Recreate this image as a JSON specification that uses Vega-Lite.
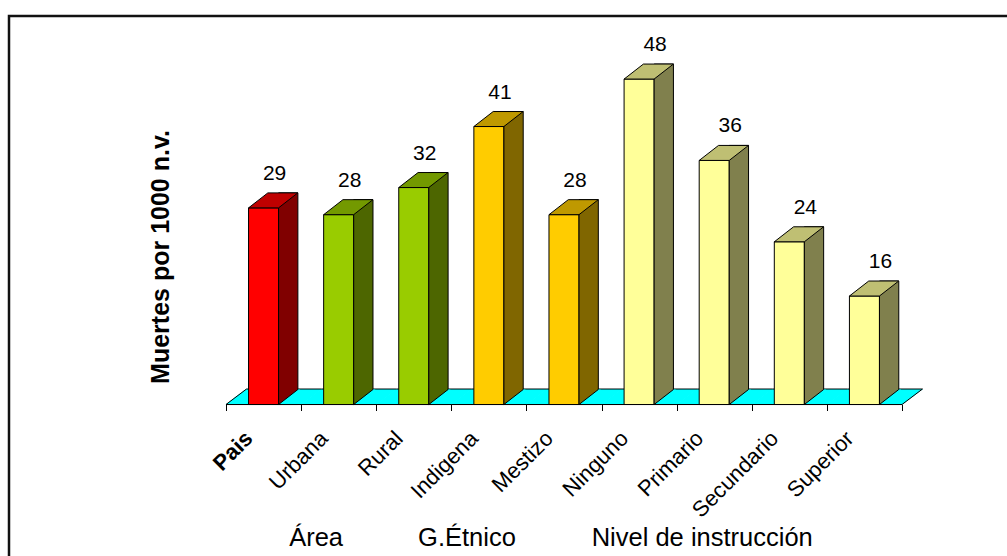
{
  "$schema": "https://vega.github.io/schema/vega-lite/v6.json",
  "width": 1010,
  "height": 570,
  "autosize": {"type": "none"},
  "padding": {"left": 9, "top": 16, "right": -12, "bottom": -30},
  "background": "white",
  "config": {
    "view": {"stroke": "#111111", "strokeWidth": 2.5},
    "font": "Liberation Sans"
  },
  "datasets": {
    "d": [
      {"cat": "Pais", "value": 29, "group": "Total"},
      {"cat": "Urbana", "value": 28, "group": "Área"},
      {"cat": "Rural", "value": 32, "group": "Área"},
      {"cat": "Indigena", "value": 41, "group": "G.Étnico"},
      {"cat": "Mestizo", "value": 28, "group": "G.Étnico"},
      {"cat": "Ninguno", "value": 48, "group": "Nivel de instrucción"},
      {"cat": "Primario", "value": 36, "group": "Nivel de instrucción"},
      {"cat": "Secundario", "value": 24, "group": "Nivel de instrucción"},
      {"cat": "Superior", "value": 16, "group": "Nivel de instrucción"}
    ]
  },
  "data": {"name": "d"},
  "encoding": {
    "x": {
      "field": "cat",
      "type": "nominal",
      "sort": null,
      "scale": {
        "type": "band",
        "domain": ["Pais", "Urbana", "Rural", "Indigena", "Mestizo", "Ninguno", "Primario", "Secundario", "Superior"],
        "range": [217, 893],
        "paddingInner": 0,
        "paddingOuter": 0
      },
      "axis": {
        "orient": "bottom",
        "offset": -181.5,
        "title": null,
        "domain": false,
        "grid": false,
        "ticks": true,
        "tickBand": "extent",
        "tickSize": 6,
        "tickColor": "black",
        "tickWidth": 1,
        "labelAngle": -45,
        "labelAlign": "right",
        "labelBaseline": "middle",
        "labelFontSize": 22,
        "labelFont": "Liberation Sans",
        "labelColor": "black",
        "labelPadding": 24,
        "labelOffset": -15,
        "labelOverlap": false,
        "labelFontWeight": {"condition": {"test": "datum.value === 'Pais'", "value": "bold"}, "value": "normal"}
      }
    }
  },
  "layer": [
    {
      "mark": {"type": "point", "shape": "M -38.05 0 L 38.05 0 L 58.55 -15.5 L -17.55 -15.5 Z", "size": 4, "filled": true, "fill": "#00FFFF", "strokeWidth": 0, "opacity": 1},
      "encoding": {"y": {"datum": 0, "type": "quantitative", "scale": {"type": "linear", "domain": [-13.64, 57.3], "range": [481, 0], "nice": false, "zero": false}, "axis": null}}
    },
    {
      "mark": {"type": "point", "shape": "M -37.55 0 L 37.55 0 M -17.05 -15.5 L 58.05 -15.5", "size": 4, "filled": false, "stroke": "black", "strokeWidth": 1, "opacity": 1},
      "encoding": {"y": {"datum": 0, "type": "quantitative", "scale": {"type": "linear", "domain": [-13.64, 57.3], "range": [481, 0], "nice": false, "zero": false}, "axis": null}}
    },
    {
      "transform": [{"filter": "datum.cat === 'Pais'"}],
      "mark": {"type": "point", "shape": "M -37.55 0 L -17.05 -15.5", "size": 4, "filled": false, "stroke": "black", "strokeWidth": 1, "opacity": 1},
      "encoding": {"y": {"datum": 0, "type": "quantitative", "scale": {"type": "linear", "domain": [-13.64, 57.3], "range": [481, 0], "nice": false, "zero": false}, "axis": null}}
    },
    {
      "transform": [{"filter": "datum.cat === 'Superior'"}],
      "mark": {"type": "point", "shape": "M 37.55 0 L 58.05 -15.5", "size": 4, "filled": false, "stroke": "black", "strokeWidth": 1, "opacity": 1},
      "encoding": {"y": {"datum": 0, "type": "quantitative", "scale": {"type": "linear", "domain": [-13.64, 57.3], "range": [481, 0], "nice": false, "zero": false}, "axis": null}}
    },
    {
      "mark": {"type": "bar", "width": {"band": 0.4}, "stroke": "black", "strokeWidth": 1},
      "encoding": {
        "y": {
          "field": "value",
          "type": "quantitative",
          "scale": {"type": "linear", "domain": [-13.64, 57.3], "range": [481, 0], "nice": false, "zero": false},
          "axis": {
            "title": "Muertes por 1000 n.v.",
            "orient": "left",
            "offset": -159.3,
            "domain": false,
            "ticks": false,
            "labels": false,
            "grid": false,
            "minExtent": 0,
            "titlePadding": 0,
            "titleFontSize": 25,
            "titleFontWeight": "bold",
            "titleFont": "Liberation Sans",
            "titleColor": "black",
            "titleAngle": -90,
            "titleAlign": "center",
            "titleAnchor": "middle",
            "titleBaseline": "alphabetic"
          }
        },
        "y2": {"datum": 0},
        "fill": {
          "field": "group",
          "type": "nominal",
          "scale": {"domain": ["Total", "Área", "G.Étnico", "Nivel de instrucción"], "range": ["#FF0000", "#99CC00", "#FFCC00", "#FFFF99"]},
          "legend": null
        }
      }
    },
    {
      "mark": {"type": "bar", "width": {"band": 0.257}, "xOffset": 24.67, "yOffset": -15, "stroke": "black", "strokeWidth": 1},
      "encoding": {
        "y": {"field": "value", "type": "quantitative", "scale": {"type": "linear", "domain": [-13.64, 57.3], "range": [481, 0], "nice": false, "zero": false}, "axis": null},
        "y2": {"datum": 0},
        "fill": {
          "field": "group",
          "type": "nominal",
          "scale": {"domain": ["Total", "Área", "G.Étnico", "Nivel de instrucción"], "range": ["#800000", "#4D6600", "#806600", "#80804D"]},
          "legend": null
        }
      }
    },
    {
      "mark": {"type": "point", "shape": "M 15 0.4 L 15 0 L 34.3 -15 L 36.5 -15 L 36.5 0.4 Z", "size": 4, "filled": true, "fill": "#00FFFF", "strokeWidth": 0, "opacity": 1},
      "encoding": {"y": {"datum": 0, "type": "quantitative", "scale": {"type": "linear", "domain": [-13.64, 57.3], "range": [481, 0], "nice": false, "zero": false}, "axis": null}}
    },
    {
      "mark": {"type": "point", "shape": "M -37.55 0 L 37.55 0 M 15 0 L 34.3 -15", "size": 4, "filled": false, "stroke": "black", "strokeWidth": 1, "opacity": 1},
      "encoding": {"y": {"datum": 0, "type": "quantitative", "scale": {"type": "linear", "domain": [-13.64, 57.3], "range": [481, 0], "nice": false, "zero": false}, "axis": null}}
    },
    {
      "mark": {"type": "point", "shape": "M -15 0 L 15 0 L 34.3 -15 L 4.3 -15 Z", "size": 4, "filled": true, "stroke": "black", "strokeWidth": 1, "opacity": 1},
      "encoding": {
        "y": {"field": "value", "type": "quantitative", "scale": {"type": "linear", "domain": [-13.64, 57.3], "range": [481, 0], "nice": false, "zero": false}, "axis": null},
        "fill": {
          "field": "group",
          "type": "nominal",
          "scale": {"domain": ["Total", "Área", "G.Étnico", "Nivel de instrucción"], "range": ["#BF0000", "#739900", "#BF9900", "#BFBF73"]},
          "legend": null
        }
      }
    },
    {
      "transform": [{"filter": "datum.group !== 'Nivel de instrucción'"}],
      "mark": {"type": "text", "dx": 11, "dy": -28, "fontSize": 21, "font": "Liberation Sans", "baseline": "alphabetic", "align": "center", "color": "black"},
      "encoding": {
        "y": {"field": "value", "type": "quantitative", "scale": {"type": "linear", "domain": [-13.64, 57.3], "range": [481, 0], "nice": false, "zero": false}, "axis": null},
        "text": {"field": "value", "type": "quantitative"}
      }
    },
    {
      "transform": [{"filter": "datum.group === 'Nivel de instrucción'"}],
      "mark": {"type": "text", "dx": 16, "dy": -28, "fontSize": 21, "font": "Liberation Sans", "baseline": "alphabetic", "align": "center", "color": "black"},
      "encoding": {
        "y": {"field": "value", "type": "quantitative", "scale": {"type": "linear", "domain": [-13.64, 57.3], "range": [481, 0], "nice": false, "zero": false}, "axis": null},
        "text": {"field": "value", "type": "quantitative"}
      }
    },
    {
      "transform": [{"filter": "datum.cat === 'Urbana'"}],
      "mark": {"type": "text", "dx": -22.6, "dy": 141.5, "fontSize": 25.5, "font": "Liberation Sans", "baseline": "alphabetic", "align": "center", "color": "black"},
      "encoding": {
        "y": {"datum": 0, "type": "quantitative", "scale": {"type": "linear", "domain": [-13.64, 57.3], "range": [481, 0], "nice": false, "zero": false}, "axis": null},
        "text": {"field": "group", "type": "nominal"}
      }
    },
    {
      "transform": [{"filter": "datum.cat === 'Indigena'"}],
      "mark": {"type": "text", "dx": -21.9, "dy": 141.5, "fontSize": 25.5, "font": "Liberation Sans", "baseline": "alphabetic", "align": "center", "color": "black"},
      "encoding": {
        "y": {"datum": 0, "type": "quantitative", "scale": {"type": "linear", "domain": [-13.64, 57.3], "range": [481, 0], "nice": false, "zero": false}, "axis": null},
        "text": {"field": "group", "type": "nominal"}
      }
    },
    {
      "transform": [{"filter": "datum.cat === 'Primario'"}],
      "mark": {"type": "text", "dx": -12, "dy": 141.5, "fontSize": 25.5, "font": "Liberation Sans", "baseline": "alphabetic", "align": "center", "color": "black"},
      "encoding": {
        "y": {"datum": 0, "type": "quantitative", "scale": {"type": "linear", "domain": [-13.64, 57.3], "range": [481, 0], "nice": false, "zero": false}, "axis": null},
        "text": {"field": "group", "type": "nominal"}
      }
    }
  ],
  "resolve": {"scale": {"fill": "independent"}, "axis": {"y": "independent"}}
}
